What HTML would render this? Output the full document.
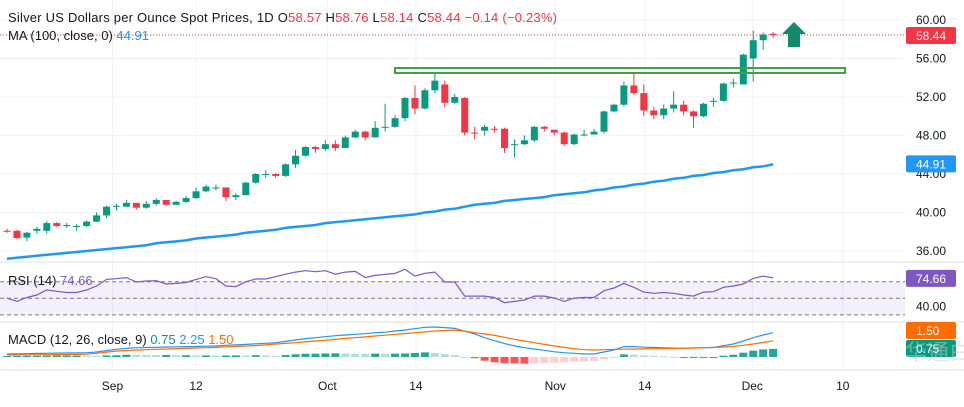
<!DOCTYPE html>
<html><head><meta charset="utf-8"><style>
body{margin:0;background:#fff;font-family:"Liberation Sans","Noto Sans CJK SC",sans-serif}
svg text{font-family:"Liberation Sans","Noto Sans CJK SC",sans-serif}
</style></head><body>
<svg id="c" width="964" height="402" viewBox="0 0 964 402" xmlns="http://www.w3.org/2000/svg">
<rect width="964" height="402" fill="#fff"/>
<g id="grid"></g>
<rect x="0" y="282" width="905" height="33" fill="#7e57c2" opacity="0.09"/>
<g id="marks"></g>
<g id="axes"></g>
<g>
<text x="8" y="22" font-size="13" fill="#131722" textLength="549" lengthAdjust="spacing">Silver US Dollars per Ounce Spot Prices, 1D  <tspan fill="#131722">O</tspan><tspan fill="#f23645">58.57</tspan>  <tspan fill="#131722">H</tspan><tspan fill="#f23645">58.76</tspan>  <tspan fill="#131722">L</tspan><tspan fill="#f23645">58.14</tspan>  <tspan fill="#131722">C</tspan><tspan fill="#f23645">58.44  −0.14 (−0.23%)</tspan></text>
<text x="8" y="40" font-size="13" fill="#131722">MA (100, close, 0) <tspan fill="#2196f3">44.91</tspan></text>
<text x="8" y="285" font-size="13" fill="#131722">RSI (14) <tspan fill="#7e57c2">74.66</tspan></text>
<text x="8" y="344" font-size="13" fill="#131722">MACD (12, 26, close, 9) <tspan fill="#089981">0.75</tspan> <tspan fill="#2196f3">2.25</tspan> <tspan fill="#ff6d00">1.50</tspan></text>
</g>
<rect x="395" y="68" width="450" height="5" fill="none" stroke="#43a047" stroke-width="2"/>
<polygon points="794,22 806,34 800,34 800,47 788,47 788,34 782,34" fill="#0e8a6c"/>
<text x="905" y="360" font-size="22" fill="#ccc" opacity="0.5">华通白银</text>
</svg>
<script>
const closes=[38.08,37.35,37.9,38.3,38.9,38.6,38.7,38.6,39.05,39.7,40.6,40.7,41.0,40.5,40.9,41.3,40.8,41.1,41.5,42.2,42.7,42.6,41.6,41.8,43.1,44.0,44.0,43.8,45.0,45.9,46.8,46.6,47.1,46.7,47.8,48.4,47.8,48.8,48.9,49.8,51.9,50.8,52.7,53.7,51.4,52.0,48.3,48.2,48.9,48.6,46.7,47.1,47.5,48.9,48.7,48.3,47.1,48.1,48.1,48.4,50.5,51.2,53.2,52.4,50.6,50.1,50.8,51.2,50.5,50.0,51.3,51.6,53.4,53.5,56.4,57.9,58.5,58.44];
const opens=[38.1,38.1,37.4,38.1,38.1,38.9,38.7,38.6,38.6,39.05,39.7,40.6,40.6,41.0,40.5,40.9,41.3,40.8,41.1,41.5,42.2,42.6,42.6,41.6,41.8,43.1,44.0,44.0,43.8,45.0,45.9,46.8,46.6,47.1,46.7,47.8,48.4,47.8,48.8,48.9,49.8,51.9,50.8,52.7,53.3,51.4,51.9,48.3,48.5,48.7,48.7,47.0,47.1,47.5,48.9,48.6,48.3,47.1,48.0,48.1,48.4,50.5,51.2,53.2,52.4,50.6,50.1,50.8,51.2,50.5,50.0,51.5,51.6,53.4,53.3,56.0,57.9,58.57];
const highs=[38.3,38.2,38.0,38.5,39.1,39.0,38.9,38.8,39.2,40.0,40.7,40.9,41.3,41.0,41.2,41.5,41.3,41.2,41.7,42.6,42.9,42.9,42.6,42.0,43.2,44.1,44.4,44.1,45.1,46.5,46.9,46.9,47.5,47.5,48.0,48.6,48.5,49.5,51.3,50.1,52.0,53.2,52.9,54.5,53.7,52.3,52.0,48.9,49.1,49.0,48.8,47.6,48.0,49.0,49.0,48.6,48.4,48.2,48.6,48.7,50.6,51.3,53.6,54.5,53.3,51.0,51.2,52.6,51.6,50.6,51.4,51.9,53.5,53.9,56.5,58.9,58.7,58.76];
const lows=[37.9,37.2,37.0,37.8,37.8,38.5,38.4,38.1,38.5,39.0,39.4,40.2,40.6,40.3,40.4,40.7,40.7,40.9,41.0,41.4,42.1,42.3,41.2,41.3,41.8,43.0,43.6,43.6,43.7,44.6,45.8,46.2,46.4,46.4,46.7,47.7,47.5,47.8,48.4,48.8,49.5,50.2,50.7,52.4,50.9,51.3,48.0,47.6,48.0,48.3,46.2,45.7,47.0,47.3,48.4,48.0,46.9,47.0,47.9,48.1,48.2,50.4,51.0,52.2,50.0,49.7,49.7,50.4,50.1,48.8,49.9,51.0,51.5,53.0,53.3,53.6,56.9,58.14];
const ma100=[35.2,35.3,35.4,35.5,35.6,35.7,35.8,35.9,36.0,36.1,36.2,36.3,36.4,36.5,36.6,36.8,36.9,37.0,37.1,37.3,37.4,37.5,37.6,37.7,37.9,38.0,38.1,38.2,38.4,38.5,38.6,38.7,38.9,39.0,39.1,39.2,39.3,39.4,39.5,39.6,39.7,39.8,40.0,40.1,40.3,40.4,40.6,40.8,40.9,41.0,41.2,41.3,41.4,41.5,41.6,41.8,41.9,42.0,42.1,42.3,42.4,42.6,42.7,42.9,43.0,43.2,43.3,43.5,43.6,43.8,43.9,44.1,44.2,44.4,44.5,44.7,44.8,45.0];
const rsi=[50.3,46.3,51,54,60,58.4,57,57,60,64.8,72.8,73.6,75,69.6,70.8,71.2,67.2,68,69,72.8,76,73.6,64.8,64,70,73.2,73.2,76,79,81.6,83.3,82,83.3,79,81.6,82.4,75,77.6,78.8,80,85,76.8,80,81.6,69.6,69.6,52.7,52.7,52.7,51,44.7,46.3,47.9,52.7,52.7,50.3,46.3,50.3,51,51,59.2,62.4,68,63.2,57.5,56,57,56,54,52.7,57.5,58,63.2,64.8,67.2,74,76.8,74.66];
const macd=[0.28,0.29,0.31,0.33,0.34,0.36,0.37,0.38,0.39,0.46,0.59,0.71,0.81,0.85,0.88,0.90,0.93,0.94,0.96,0.97,1.0,1.02,1.08,1.12,1.17,1.22,1.27,1.32,1.44,1.57,1.70,1.79,1.88,1.97,2.04,2.10,2.16,2.25,2.30,2.41,2.50,2.62,2.75,2.78,2.72,2.65,2.39,2.14,1.79,1.51,1.24,1.03,0.86,0.74,0.62,0.48,0.40,0.34,0.28,0.28,0.46,0.65,0.96,0.96,0.91,0.88,0.85,0.82,0.81,0.84,0.87,0.88,1.05,1.20,1.48,1.79,2.04,2.25];
const signal=[0.19,0.19,0.20,0.21,0.21,0.22,0.23,0.24,0.26,0.34,0.45,0.55,0.60,0.64,0.68,0.71,0.74,0.78,0.80,0.83,0.86,0.89,0.94,0.97,1.02,1.06,1.12,1.20,1.26,1.32,1.40,1.48,1.55,1.63,1.72,1.79,1.86,1.94,2.02,2.10,2.17,2.25,2.32,2.41,2.45,2.48,2.39,2.25,2.13,2.00,1.82,1.63,1.48,1.32,1.17,1.02,0.89,0.77,0.68,0.65,0.68,0.71,0.72,0.74,0.75,0.77,0.78,0.80,0.82,0.83,0.86,0.89,0.93,0.99,1.08,1.20,1.34,1.50];
const priceTicks=[60,56,52,48,44,40,36];
const priceTickLabels=["60.00","56.00","52.00","48.00","44.00","40.00","36.00"];
const dateIdx=[10.6,19,32.2,41.1,55.1,64.1,74.9,84];
const dateLabels=["Sep","12","Oct","14","Nov","14","Dec","10"];

const NS="http://www.w3.org/2000/svg";
const xS=i=>7+9.95*i;
const yP=p=>20+(60-p)*9.625;
const yR=r=>281.7-(r-70)*0.83;
const yM=v=>357-v*10.8;
function mk(tag,attrs,parent){const e=document.createElementNS(NS,tag);for(const k in attrs)e.setAttribute(k,attrs[k]);document.getElementById(parent).appendChild(e);return e;}
priceTicks.forEach((p,i)=>{const l=mk('line',{x1:0,x2:905,y1:yP(p),y2:yP(p),stroke:'#f0f3fa'},'grid');

});
dateIdx.forEach(d=>{const l=mk('line',{x1:xS(d),x2:xS(d),y1:0,y2:370,stroke:'#f0f3fa'},'grid');

});
[262,322,370].forEach(y=>{const l=mk('line',{x1:0,x2:964,y1:y,y2:y,stroke:'#e0e3eb'},'grid');

});
[70,50,30].forEach(r=>{const l=mk('line',{x1:0,x2:905,y1:yR(r),y2:yR(r),stroke:'#787b86','stroke-dasharray':'4,3','stroke-width':1},'grid');

});
let d='';ma100.forEach((v,i)=>{d+=(i?'L':'M')+xS(i).toFixed(1)+','+yP(v).toFixed(1);});
const ma=mk('path',{d:d,fill:'none',stroke:'#2196f3','stroke-width':2.5},'marks');


closes.forEach((c,i)=>{const o=opens[i];const col=c>=o?'#089981':'#f23645';const x=xS(i);
const w=mk('line',{x1:x,x2:x,y1:yP(highs[i]),y2:yP(lows[i]),stroke:col,'stroke-width':1},'marks');


const top=yP(Math.max(o,c)),h=Math.max(1,Math.abs(yP(o)-yP(c)));
const b=mk('rect',{x:x-3.5,y:top,width:7,height:h,fill:col},'marks');

});
const lp=mk('line',{x1:0,x2:905,y1:yP(closes[77]),y2:yP(closes[77]),stroke:'#f23645','stroke-dasharray':'1,2'},'marks');


d='';rsi.forEach((v,i)=>{d+=(i?'L':'M')+xS(i).toFixed(1)+','+yR(v).toFixed(1);});
const rl=mk('path',{d:d,fill:'none',stroke:'#7e57c2','stroke-width':1.2},'marks');


macd.forEach((m,i)=>{const h=m-signal[i];const prev=i?macd[i-1]-signal[i-1]:h;
let col=h>=0?(h>=prev?'#26a69a':'#b2dfdb'):(h<prev?'#ff5252':'#ffcdd2');
const y1=yM(Math.max(h,0)),y2=yM(Math.min(h,0));
const r=mk('rect',{x:xS(i)-4,y:y1,width:8,height:Math.max(1,y2-y1),fill:col},'marks');

});
d='';macd.forEach((v,i)=>{d+=(i?'L':'M')+xS(i).toFixed(1)+','+yM(v).toFixed(1);});
const ml=mk('path',{d:d,fill:'none',stroke:'#2196f3','stroke-width':1.2},'marks');


d='';signal.forEach((v,i)=>{d+=(i?'L':'M')+xS(i).toFixed(1)+','+yM(v).toFixed(1);});
const sl=mk('path',{d:d,fill:'none',stroke:'#ff6d00','stroke-width':1.2},'marks');


priceTicks.forEach((p,i)=>{const t=mk('text',{x:916,y:yP(p)+4,'font-size':12,fill:'#131722'},'axes');t.textContent=priceTickLabels[i];

});
dateIdx.forEach((di,i)=>{const t=mk('text',{x:xS(di),y:390,'font-size':12,fill:'#131722','text-anchor':'middle'},'axes');t.textContent=dateLabels[i];

});
function badge(y,txt,bg,name){const r=mk('rect',{x:906,y:y-8,width:50,height:17,rx:2,fill:bg},'axes');


const t=mk('text',{x:916,y:y+5,'font-size':12,fill:'#fff'},'axes');t.textContent=txt;

}
badge(yP(closes[77]),closes[77].toFixed(2),'#f23645','last-price-badge');
badge(yP(ma100[77])-1,'44.91','#2196f3','ma-badge');
badge(yR(rsi[77]),rsi[77].toFixed(2),'#7e57c2','rsi-badge');
const t40=mk('text',{x:916,y:yR(40)+4,'font-size':12,fill:'#131722'},'axes');t40.textContent='40.00';


badge(330,'1.50','#ff6d00','signal-badge');
badge(348,'0.75','#089981','histogram-badge');
</script>
</body></html>
